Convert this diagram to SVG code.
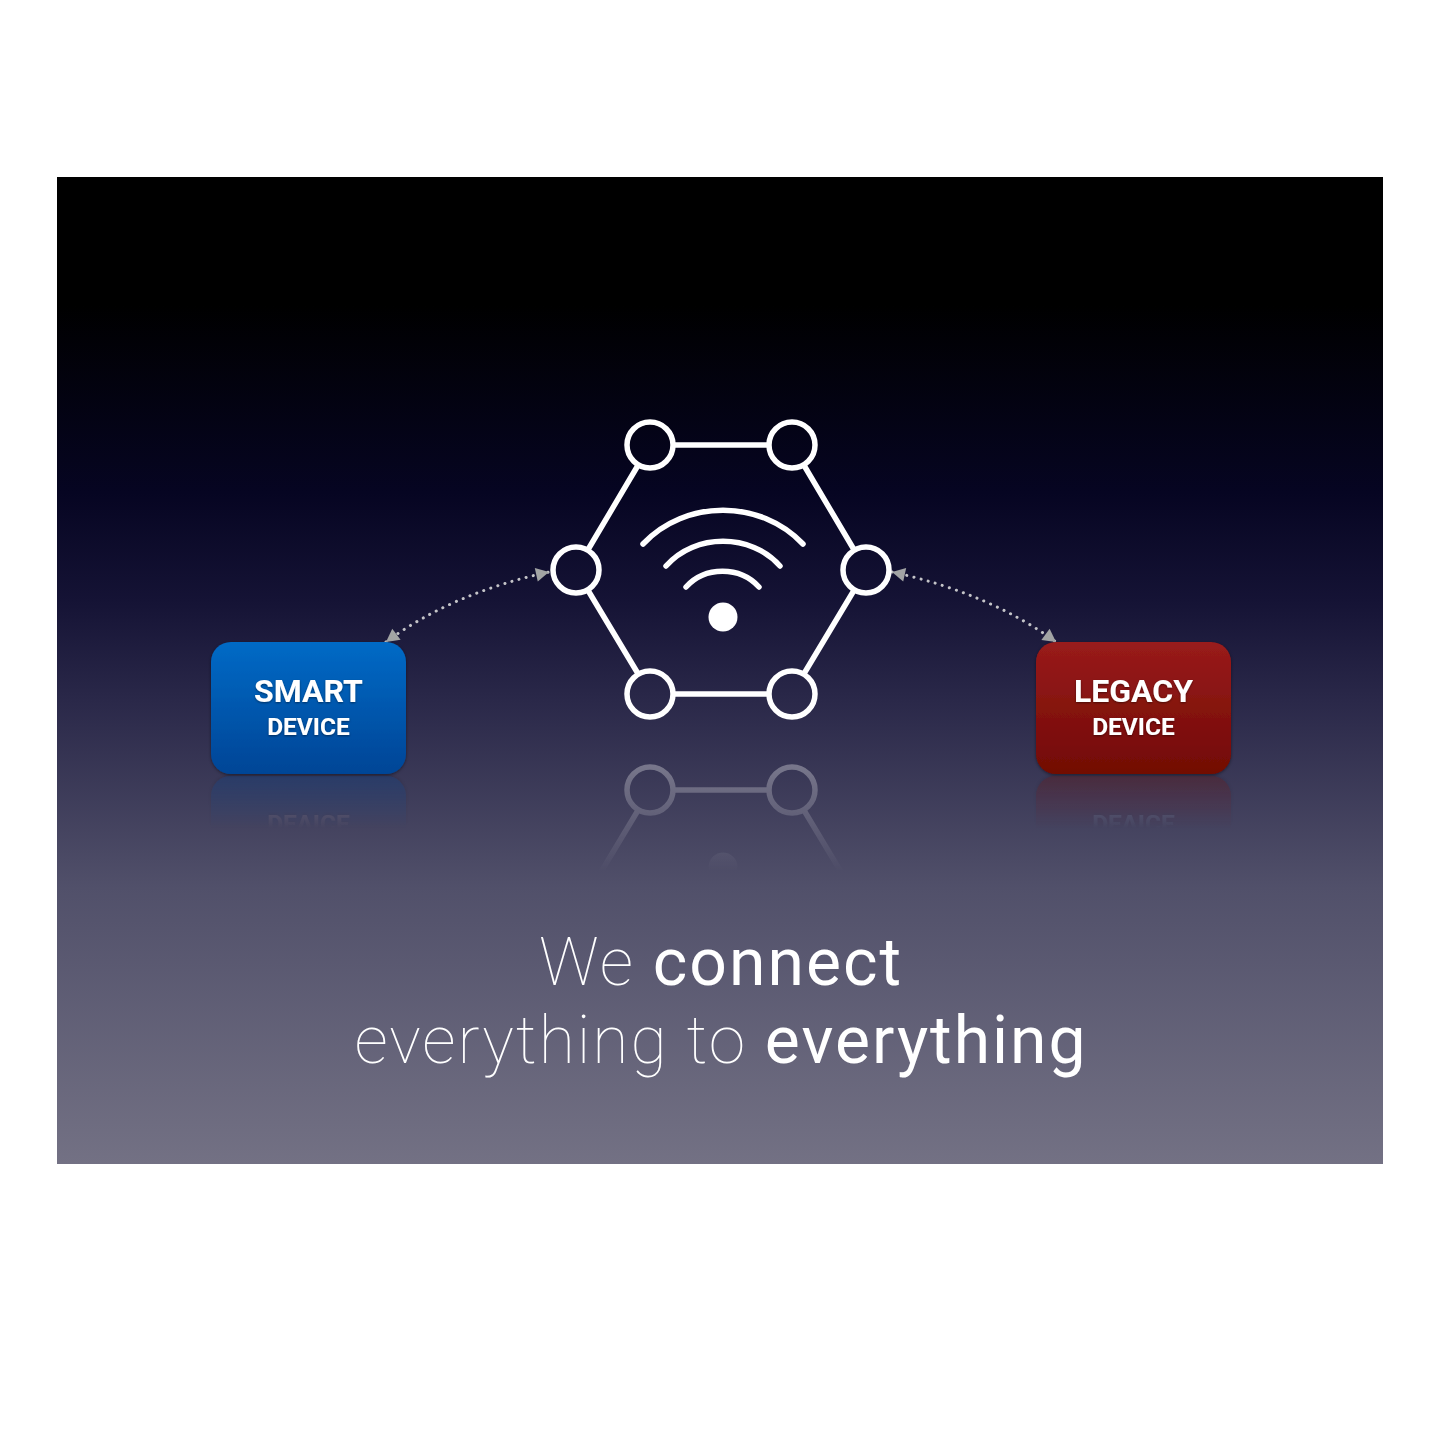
<svg xmlns="http://www.w3.org/2000/svg" xmlns:xlink="http://www.w3.org/1999/xlink" width="1440" height="1440" viewBox="0 0 1440 1440">
<style>
.hex{fill:none;stroke:#fff;stroke-width:5.500;stroke-linecap:round}
.dot{fill:none;stroke:#c4c4c8;stroke-width:3;stroke-linecap:round;stroke-dasharray:0.1 7.3}
.big{font-family:Roboto,"Liberation Sans",sans-serif;font-size:32px;font-weight:700;fill:#fff;text-anchor:middle}
.small{font-family:Roboto,"Liberation Sans",sans-serif;font-size:24.500px;font-weight:700;fill:#fff;text-anchor:middle}
.cap{font-family:Roboto,"Liberation Sans",sans-serif;font-size:66px;letter-spacing:2px;fill:#fff;text-anchor:middle}
.thin{font-weight:100}.reg{font-weight:400}
</style>
<defs>
<linearGradient id="bg" x1="0" y1="0" x2="0" y2="1">
<stop offset="0" stop-color="#000"/><stop offset="0.13" stop-color="#000"/>
<stop offset="0.32" stop-color="#060522"/><stop offset="0.43" stop-color="#151335"/>
<stop offset="0.53" stop-color="#2a2849"/><stop offset="0.72" stop-color="#51506a"/>
<stop offset="1" stop-color="#737184"/>
</linearGradient>
<linearGradient id="blue" x1="0" y1="0" x2="0" y2="1"><stop offset="0" stop-color="#056ac6"/><stop offset="1" stop-color="#054596"/></linearGradient>
<linearGradient id="red" x1="0" y1="0" x2="0" y2="1"><stop offset="0" stop-color="#991b1b"/><stop offset="1" stop-color="#720a04"/></linearGradient>
<linearGradient id="fadeBox" gradientUnits="userSpaceOnUse" x1="0" y1="776" x2="0" y2="828"><stop offset="0" stop-color="#fff" stop-opacity="0.28"/><stop offset="1" stop-color="#fff" stop-opacity="0"/></linearGradient>
<linearGradient id="fadeHex" gradientUnits="userSpaceOnUse" x1="0" y1="760" x2="0" y2="872"><stop offset="0" stop-color="#fff" stop-opacity="0.34"/><stop offset="0.85" stop-color="#fff" stop-opacity="0.05"/><stop offset="1" stop-color="#fff" stop-opacity="0"/></linearGradient>
<mask id="mBox" maskUnits="userSpaceOnUse" x="0" y="0" width="1440" height="1440"><rect x="0" y="770" width="1440" height="80" fill="url(#fadeBox)"/></mask>
<mask id="mHex" maskUnits="userSpaceOnUse" x="0" y="0" width="1440" height="1440"><rect x="0" y="742" width="1440" height="150" fill="url(#fadeHex)"/></mask>
<filter id="ts" x="-20%" y="-30%" width="140%" height="170%"><feDropShadow dx="0" dy="1" stdDeviation="1" flood-color="#000" flood-opacity="0.45"/></filter>
<filter id="bs" x="-10%" y="-10%" width="120%" height="125%"><feDropShadow dx="0" dy="1" stdDeviation="1.5" flood-color="#000" flood-opacity="0.45"/></filter>
<marker id="ah" markerWidth="15" markerHeight="15" viewBox="0 0 15 15" refX="14" refY="7.500" orient="auto-start-reverse" markerUnits="userSpaceOnUse"><path d="M1 0.500L14 7.500L1 14.500Z" fill="#a2a4a4"/></marker>
</defs>
<rect width="1440" height="1440" fill="#fff"/>
<rect id="panel" x="57" y="177" width="1326" height="987" fill="url(#bg)"/>

<g id="reflections">
<g mask="url(#mBox)"><use xlink:href="#node-smart" transform="matrix(1 0 0 -1 0 1550)"/><use xlink:href="#node-legacy" transform="matrix(1 0 0 -1 0 1550)"/></g>
<g mask="url(#mHex)"><use xlink:href="#node-hub" transform="matrix(1 0 0 -1 0 1484)"/></g>
</g>

<g id="connectors">
<path class="dot" d="M386 642Q452 593 549 572" marker-start="url(#ah)" marker-end="url(#ah)"/>
<path class="dot" d="M892 572Q989 593 1056 642" marker-start="url(#ah)" marker-end="url(#ah)"/>
</g>

<g id="node-smart">
<rect x="211" y="642" width="195" height="132" rx="20" fill="url(#blue)" filter="url(#bs)"/>
<text class="big" x="308.500" y="702" filter="url(#ts)">SMART</text>
<text class="small" x="308.500" y="735" filter="url(#ts)">DEVICE</text>
</g>
<g id="node-legacy">
<rect x="1036" y="642" width="195" height="132" rx="20" fill="url(#red)" filter="url(#bs)"/>
<text class="big" x="1133.500" y="702" filter="url(#ts)">LEGACY</text>
<text class="small" x="1133.500" y="735" filter="url(#ts)">DEVICE</text>
</g>
<g id="node-hub">
<g class="hex">
<circle cx="650" cy="445" r="23"/><circle cx="792" cy="445" r="23"/><circle cx="866" cy="570" r="23"/>
<circle cx="792" cy="694" r="23"/><circle cx="650" cy="694" r="23"/><circle cx="576" cy="570" r="23"/>
<path d="M675 445H767M805 467L853 548M853 592L805 672M767 694H675M637 672L589 592M589 548L637 467"/>
<path d="M643 544C685 499 761 499 803 544M666 566C695 533 751 533 780 566M686 587C705 566 740 566 759 587"/>
</g>
<ellipse cx="723" cy="617" rx="14.500" ry="14.500" fill="#fff"/>
</g>

<g id="caption">
<text class="cap" x="721" y="985"><tspan class="thin">We </tspan><tspan class="reg">connect</tspan></text>
<text class="cap" x="721" y="1063"><tspan class="thin">everything to </tspan><tspan class="reg">everything</tspan></text>
</g>
</svg>
